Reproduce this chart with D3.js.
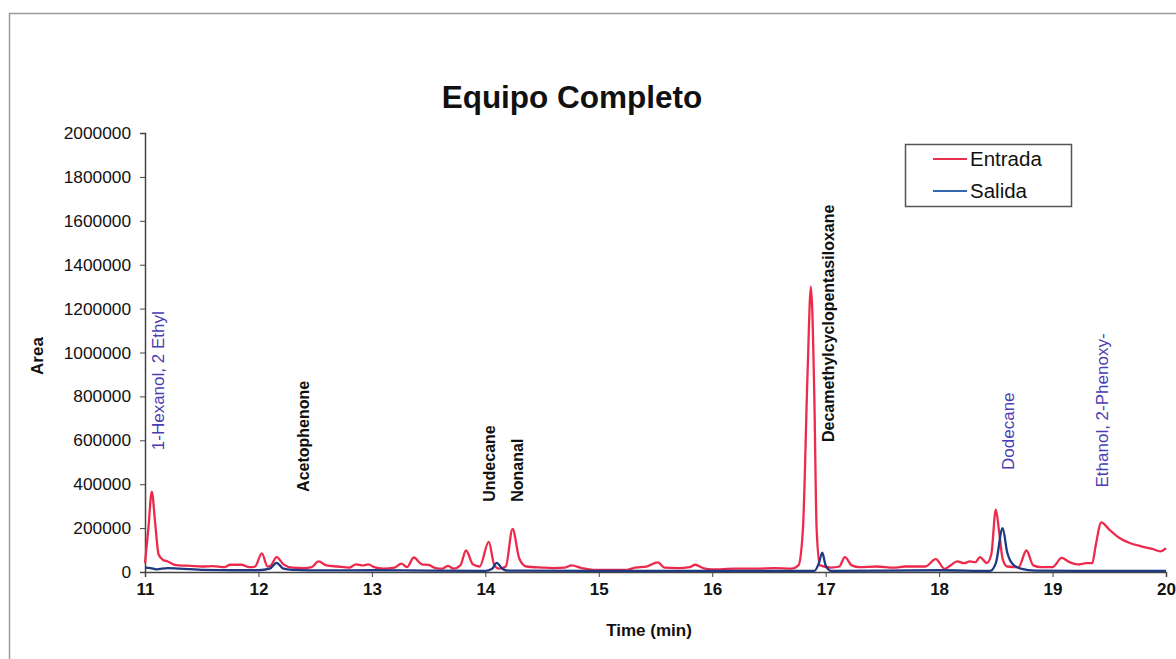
<!DOCTYPE html>
<html>
<head>
<meta charset="utf-8">
<script src="https://cdn.jsdelivr.net/npm/d3@7"></script>
<style>
  html, body { margin: 0; padding: 0; background: #fff; }
  svg { display: block; font-family: Arial, "Liberation Sans", sans-serif; }
</style>
</head>
<body>
<svg id="chart" width="1176" height="659"></svg>
<script>
// ---------- DATA ----------
const entradaTime = [11.00,11.03,11.06,11.09,11.12,11.16,11.20,11.25,11.30,11.40,11.50,11.60,11.70,11.75,11.85,11.92,11.97,12.03,12.08,12.11,12.16,12.22,12.30,12.40,12.47,12.53,12.60,12.70,12.80,12.86,12.92,12.97,13.02,13.10,13.20,13.26,13.31,13.37,13.44,13.50,13.56,13.62,13.67,13.72,13.78,13.83,13.89,13.95,14.03,14.08,14.12,14.18,14.24,14.30,14.36,14.50,14.60,14.70,14.76,14.85,14.95,15.10,15.25,15.32,15.42,15.52,15.58,15.70,15.80,15.85,15.92,16.00,16.20,16.40,16.55,16.70,16.76,16.80,16.84,16.87,16.90,16.92,16.95,17.05,17.12,17.17,17.23,17.30,17.45,17.60,17.70,17.88,17.97,18.05,18.10,18.16,18.22,18.27,18.32,18.36,18.42,18.46,18.50,18.53,18.56,18.60,18.70,18.77,18.83,18.90,19.00,19.08,19.15,19.22,19.30,19.35,19.38,19.43,19.50,19.59,19.68,19.78,19.88,19.95,20.00];
const entradaArea = [40000,200000,366000,220000,80000,55000,48000,35000,30000,28000,25000,27000,22000,33000,33000,22000,25000,85000,25000,30000,68000,35000,20000,18000,22000,48000,30000,25000,20000,35000,30000,35000,22000,15000,20000,38000,22000,66000,35000,32000,18000,15000,28000,15000,30000,98000,35000,25000,137000,30000,15000,25000,196000,60000,25000,20000,18000,20000,30000,18000,10000,10000,10000,20000,25000,44000,20000,18000,22000,33000,18000,12000,15000,15000,18000,15000,30000,200000,900000,1300000,800000,200000,30000,20000,25000,68000,30000,22000,25000,20000,25000,25000,59000,14000,30000,48000,40000,48000,45000,68000,41000,80000,284000,180000,60000,25000,22000,98000,30000,22000,22000,64000,45000,35000,40000,40000,120000,226000,193000,155000,132000,117000,105000,94000,109000];

const salidaTime = [11.00,11.05,11.10,11.20,11.30,11.50,11.80,12.00,12.10,12.16,12.22,12.30,12.60,13.00,13.50,14.00,14.06,14.10,14.15,14.20,15.00,16.00,16.90,16.94,16.97,17.00,17.05,18.00,18.45,18.50,18.56,18.60,18.65,18.72,18.85,19.50,20.00];
const salidaArea = [20000,18000,12000,18000,15000,10000,8000,8000,15000,42000,15000,10000,7000,8000,6000,5000,15000,42000,15000,6000,5000,5000,5000,40000,88000,30000,5000,8000,5000,40000,200000,90000,35000,15000,6000,5000,5000];

const yTicks = [0,200000,400000,600000,800000,1000000,1200000,1400000,1600000,1800000,2000000];
const xTicks = [11,12,13,14,15,16,17,18,19,20];

const peakLabels = ["1-Hexanol, 2 Ethyl","Acetophenone","Undecane","Nonanal","Decamethylcyclopentasiloxane","Dodecane","Ethanol, 2-Phenoxy-"];
const peakTimes  = [11.115, 12.395, 14.04, 14.28, 17.02, 18.61, 19.44];
const peakBase   = [555000, 365000, 320000, 320000, 592000, 465000, 385000];
const peakGroup  = ["blue","black","black","black","black","blue","blue"];

const seriesNames = ["Entrada","Salida"];
const seriesColors = ["#ee2a4c","#1d3a82"];

// ---------- CHART ----------
const svg = d3.select("#chart");
const x = d3.scaleLinear().domain([11,20]).range([145,1166]);
const y = d3.scaleLinear().domain([0,2000000]).range([572,133]);

// outer frame
svg.append("rect").attr("x",9.5).attr("y",13.5).attr("width",1200).attr("height",700)
  .attr("fill","none").attr("stroke","#9a9a9a").attr("stroke-width",1.5);

// title
svg.append("text").attr("x",572).attr("y",108).attr("text-anchor","middle")
  .attr("font-size",31.5).attr("font-weight","bold").attr("fill","#111").text("Equipo Completo");

// y axis
const yAxis = d3.axisLeft(y).tickValues(yTicks).tickSize(5).tickPadding(9).tickFormat(d3.format("d"));
const gy = svg.append("g").attr("transform","translate(145,0)").call(yAxis);
gy.select(".domain").attr("stroke","#444").attr("stroke-width",1.5);
gy.selectAll(".tick line").attr("stroke","#444");
gy.selectAll(".tick text").attr("font-size",17.3).attr("fill","#111").attr("font-family","Arial, 'Liberation Sans', sans-serif");

// x axis
const xAxis = d3.axisBottom(x).tickValues(xTicks).tickSize(5).tickPadding(6).tickFormat(d3.format("d"));
const gx = svg.append("g").attr("transform","translate(0,572)").call(xAxis);
gx.select(".domain").attr("stroke","#444").attr("stroke-width",1.5);
gx.selectAll(".tick line").attr("stroke","#444");
gx.selectAll(".tick text").attr("font-size",17).attr("fill","#111").attr("font-weight","bold").attr("font-family","Arial, 'Liberation Sans', sans-serif");

// axis titles
svg.append("text").attr("transform","translate(43,356) rotate(-90)").attr("text-anchor","middle")
  .attr("font-size",17).attr("font-weight","bold").attr("fill","#111").text("Area");
svg.append("text").attr("x",649).attr("y",636).attr("text-anchor","middle")
  .attr("font-size",17).attr("font-weight","bold").attr("fill","#111").text("Time (min)");

// lines
const line = d3.line().x(d => x(d[0])).y(d => y(d[1])).curve(d3.curveMonotoneX);
const entrada = entradaTime.map((t,i) => [t, entradaArea[i]]);
const salida = salidaTime.map((t,i) => [t, salidaArea[i]]);
svg.append("path").datum(entrada).attr("d",line).attr("fill","none")
  .attr("stroke",seriesColors[0]).attr("stroke-width",2.3).attr("stroke-linejoin","round");
svg.append("path").datum(salida).attr("d",line).attr("fill","none")
  .attr("stroke",seriesColors[1]).attr("stroke-width",2.3).attr("stroke-linejoin","round");

// peak labels
peakLabels.forEach((lab,i) => {
  const px = x(peakTimes[i]), py = y(peakBase[i]);
  svg.append("text").attr("transform",`translate(${px},${py}) rotate(-90)`)
    .attr("text-anchor","start").attr("dy","0.35em")
    .attr("font-size",peakGroup[i]==="blue" ? 17 : 16)
    .attr("font-weight",peakGroup[i]==="blue" ? "normal" : "bold")
    .attr("fill",peakGroup[i]==="blue" ? "#4a3db3" : "#111")
    .text(lab);
});

// legend
const lg = svg.append("g");
lg.append("rect").attr("x",905.5).attr("y",144.5).attr("width",166).attr("height",62)
  .attr("fill","#fff").attr("stroke","#555").attr("stroke-width",1.5);
seriesNames.forEach((n,i) => {
  const ly = 159 + i*32;
  lg.append("line").attr("x1",933).attr("x2",967).attr("y1",ly).attr("y2",ly)
    .attr("stroke", i===0 ? "#e8304e" : "#3466b0").attr("stroke-width",2);
  lg.append("text").attr("x",970).attr("y",ly).attr("dy","0.36em")
    .attr("font-size",20.5).attr("fill","#111").text(n);
});
</script>
</body>
</html>
